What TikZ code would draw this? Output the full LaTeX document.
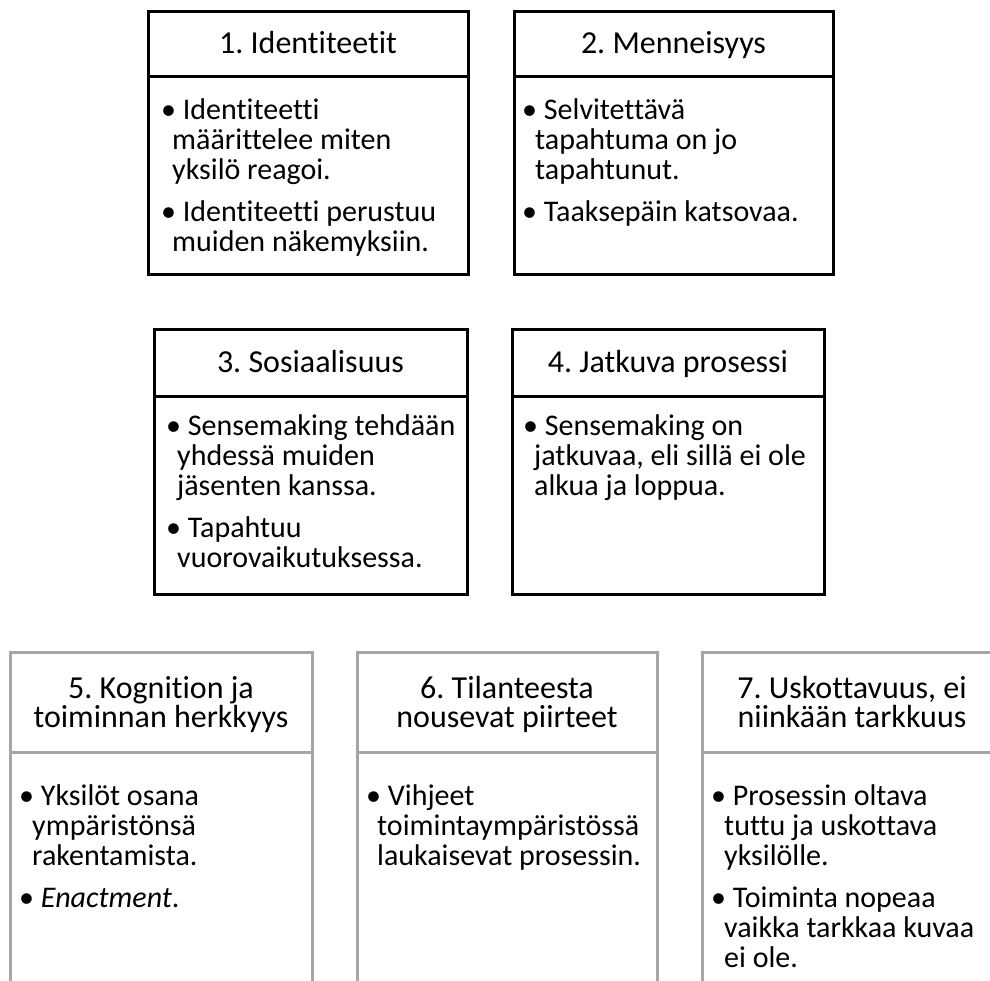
\documentclass[tikz,border=0pt]{standalone}
\usepackage{fontspec}
\setmainfont{Carlito}[Ligatures={NoCommon,NoRare}]
\definecolor{grayline}{HTML}{A5A5A5}
\frenchspacing
\begin{document}
\begin{tikzpicture}[x=1pt,y=-1pt,
  blk/.style={line width=3pt, draw=black},
  gry/.style={line width=3pt, draw=grayline},
  hd/.style={font=\fontsize{32}{28}\selectfont, anchor=base, inner sep=0pt},
  bd/.style={font=\fontsize{30}{30}\selectfont, anchor=base west, inner sep=0pt}]
\useasboundingbox (0,0) rectangle (990,981);
% ---- Box 1
\draw[blk] (148.5,11.5) rectangle (468,275);
\draw[blk] (148.5,76.5) -- (468,76.5);
\node[hd] (h1) at (308,54) {1. Identiteetit};
\node[bd] (t1a) at (161,120) {• Identiteetti};
\node[bd] (t1b) at (172,150) {määrittelee miten};
\node[bd] (t1c) at (172,180) {yksilö reagoi.};
\node[bd] (t1d) at (161,222) {• Identiteetti perustuu};
\node[bd] (t1e) at (172,252) {muiden näkemyksiin.};
% ---- Box 2
\draw[blk] (514,11.5) rectangle (833,275);
\draw[blk] (514,76.5) -- (833,76.5);
\node[hd] (h2) at (673.5,54) {2. Menneisyys};
\node[bd] (t2a) at (522,120) {• Selvitettävä};
\node[bd] (t2b) at (535,150) {tapahtuma on jo};
\node[bd] (t2c) at (535,180) {tapahtunut.};
\node[bd] (t2d) at (522,222) {• Taaksepäin katsovaa.};
% ---- Box 3
\draw[blk] (154,330) rectangle (467,594);
\draw[blk] (154,396) -- (467,396);
\node[hd] (h3) at (310.5,372) {3. Sosiaalisuus};
\node[bd] (t3a) at (166,435) {• Sensemaking tehdään};
\node[bd] (t3b) at (177,465) {yhdessä muiden};
\node[bd] (t3c) at (177,495) {jäsenten kanssa.};
\node[bd] (t3d) at (166,537) {• Tapahtuu};
\node[bd] (t3e) at (177,567) {vuorovaikutuksessa.};
% ---- Box 4
\draw[blk] (512,330) rectangle (824,594);
\draw[blk] (512,396) -- (824,396);
\node[hd] (h4) at (668,372) {4. Jatkuva prosessi};
\node[bd] (t4a) at (523,435) {• Sensemaking on};
\node[bd] (t4b) at (534,465) {jatkuvaa, eli sillä ei ole};
\node[bd] (t4c) at (534,495) {alkua ja loppua.};
% ---- Box 5
\draw[gry] (10.5,990) -- (10.5,652) -- (312,652) -- (312,990);
\draw[gry] (10.5,752) -- (312,752);
\node[hd] (h5a) at (161,698) {5. Kognition ja};
\node[hd] (h5b) at (161,727) {toiminnan herkkyys};
\node[bd] (t5a) at (19,805) {• Yksilöt osana};
\node[bd] (t5b) at (32,835) {ympäristönsä};
\node[bd] (t5c) at (32,865) {rakentamista.};
\node[bd] (t5d) at (19,907) {• \textit{Enactment}.};
% ---- Box 6
\draw[gry] (357,990) -- (357,652) -- (657,652) -- (657,990);
\draw[gry] (357,752) -- (657,752);
\node[hd] (h6a) at (507,698) {6. Tilanteesta};
\node[hd] (h6b) at (507,727) {nousevat piirteet};
\node[bd] (t6a) at (366,805) {• Vihjeet};
\node[bd] (t6b) at (377,835) {toimintaympäristössä};
\node[bd] (t6c) at (377,865) {laukaisevat prosessin.};
% ---- Box 7
\draw[gry] (702,990) -- (702,652) -- (1003,652) -- (1003,990);
\draw[gry] (702,752) -- (1003,752);
\node[hd] (h7a) at (852,698) {7. Uskottavuus, ei};
\node[hd] (h7b) at (852,727) {niinkään tarkkuus};
\node[bd] (t7a) at (711,805) {• Prosessin oltava};
\node[bd] (t7b) at (724,835) {tuttu ja uskottava};
\node[bd] (t7c) at (724,865) {yksilölle.};
\node[bd] (t7d) at (711,907) {• Toiminta nopeaa};
\node[bd] (t7e) at (724,937) {vaikka tarkkaa kuvaa};
\node[bd] (t7f) at (724,967) {ei ole.};
\end{tikzpicture}
\end{document}
